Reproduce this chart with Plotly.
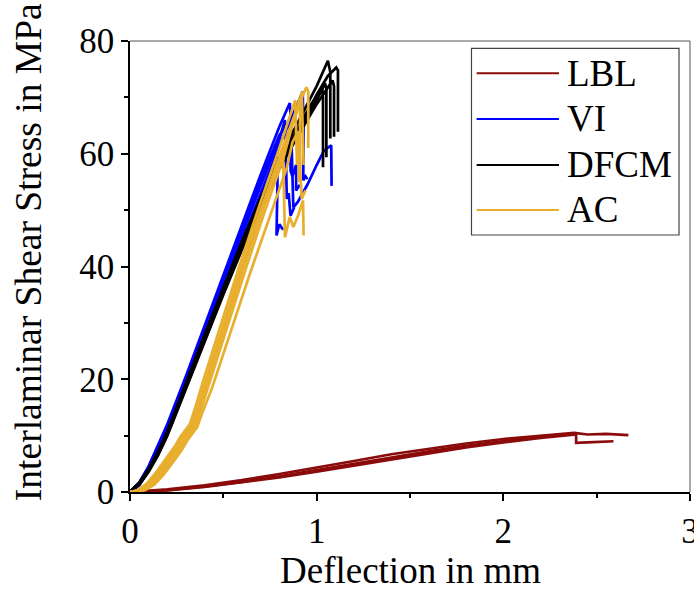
import plotly.graph_objects as go

# ---------------- data ----------------
series_names = ["LBL", "VI", "DFCM", "AC"]
series_colors = ["#8B0A0A", "#0000FF", "#000000", "#E8AE2E"]

lbl_x = [
    [0, 0.2, 0.4, 0.6, 0.8, 1.0, 1.2, 1.4, 1.6, 1.8, 2.0, 2.2, 2.39, 2.39, 2.45, 2.59],
    [0, 0.2, 0.4, 0.6, 0.8, 1.0, 1.2, 1.4, 1.6, 1.8, 2.0, 2.2, 2.38, 2.45, 2.55, 2.67],
    [0, 0.2, 0.4, 0.6, 0.8, 1.0, 1.2, 1.4, 1.6, 1.8, 2.0, 2.2, 2.39],
]
lbl_y = [
    [0, 0.35, 1.0, 1.8, 2.8, 3.9, 5.1, 6.2, 7.2, 8.2, 9.0, 9.8, 10.4, 8.7, 8.8, 9.0],
    [0, 0.45, 1.2, 2.1, 3.2, 4.3, 5.5, 6.7, 7.7, 8.6, 9.4, 10.0, 10.5, 10.2, 10.3, 10.1],
    [0, 0.3, 0.9, 1.7, 2.6, 3.6, 4.7, 5.8, 6.9, 7.9, 8.8, 9.6, 10.2],
]

vi_x = [
    [0, 0.05, 0.1, 0.2, 0.3, 0.4, 0.5, 0.6, 0.7, 0.8, 0.856, 0.862, 0.87, 0.875, 0.9, 0.95, 1.0, 1.04, 1.078, 1.08],
    [0, 0.05, 0.1, 0.2, 0.3, 0.4, 0.5, 0.6, 0.7, 0.76, 0.785, 0.79, 0.785, 0.8, 0.82],
    [0, 0.05, 0.1, 0.2, 0.3, 0.4, 0.5, 0.6, 0.7, 0.8, 0.88, 0.925, 0.93, 0.928, 0.94, 0.95],
    [0, 0.05, 0.1, 0.2, 0.3, 0.4, 0.5, 0.6, 0.7, 0.8, 0.85, 0.86, 0.86, 0.87, 0.89, 0.89, 0.91],
    [0, 0.05, 0.1, 0.2, 0.3, 0.4, 0.5, 0.6, 0.7, 0.8, 0.83, 0.835, 0.84, 0.85, 0.86, 0.88],
]
vi_y = [
    [0, 1.7, 4.6, 12.0, 20.6, 29.6, 38.5, 47.4, 56.3, 64.8, 69.0, 66.0, 58.0, 50.5, 51.5, 54.5, 58.0, 60.6, 61.5, 54.3],
    [0, 1.5, 4.3, 11.6, 20.0, 28.8, 37.6, 46.5, 55.2, 59.8, 61.5, 55.0, 45.5, 47.5, 46.5],
    [0, 1.2, 3.8, 10.6, 18.8, 27.4, 36.0, 44.6, 53.2, 61.5, 67.5, 71.0, 64.0, 55.3, 56.0, 55.5],
    [0, 1.6, 4.4, 11.8, 20.2, 29.0, 37.8, 46.6, 55.4, 63.3, 65.5, 62.0, 57.0, 56.0, 58.0, 53.5, 54.5],
    [0, 1.4, 4.1, 11.2, 19.5, 28.2, 36.9, 45.6, 54.3, 62.5, 66.0, 60.0, 52.0, 53.0, 49.0, 50.5],
]

dfcm_x = [
    [0, 0.05, 0.1, 0.15, 0.2, 0.3, 0.4, 0.5, 0.6, 0.7, 0.8, 0.9, 1.0, 1.06, 1.073, 1.073],
    [0, 0.05, 0.1, 0.15, 0.2, 0.3, 0.4, 0.5, 0.6, 0.7, 0.8, 0.9, 1.0, 1.06, 1.105, 1.114, 1.114],
    [0, 0.05, 0.1, 0.15, 0.2, 0.3, 0.4, 0.5, 0.6, 0.7, 0.8, 0.9, 0.97, 1.03, 1.034, 1.034],
    [0, 0.05, 0.1, 0.15, 0.2, 0.3, 0.4, 0.5, 0.6, 0.7, 0.8, 0.9, 1.0, 1.045, 1.052, 1.052],
    [0, 0.05, 0.1, 0.15, 0.2, 0.3, 0.4, 0.5, 0.6, 0.7, 0.8, 0.9, 1.0, 1.085, 1.093, 1.093],
]
dfcm_y = [
    [0, 1.6, 4.0, 7.0, 10.6, 19.2, 27.8, 36.2, 44.5, 52.2, 59.2, 65.5, 72.0, 76.5, 74.5, 62.7],
    [0, 1.4, 3.7, 6.6, 10.1, 18.6, 27.0, 35.3, 43.3, 51.0, 58.0, 64.0, 70.5, 73.8, 75.3, 74.8, 63.9],
    [0, 1.7, 4.1, 7.2, 10.8, 19.4, 28.0, 36.2, 44.2, 51.6, 58.4, 64.5, 68.8, 71.5, 70.0, 57.6],
    [0, 1.5, 3.8, 6.8, 10.3, 18.8, 27.3, 35.5, 43.5, 51.0, 58.0, 64.0, 69.5, 72.5, 71.5, 59.4],
    [0, 1.3, 3.6, 6.5, 10.0, 18.4, 26.8, 35.0, 43.0, 50.5, 57.3, 63.2, 68.8, 73.0, 72.0, 63.0],
]

ac_x = [
    [0, 0.05, 0.1, 0.15, 0.2, 0.25, 0.28, 0.31, 0.33, 0.36, 0.4, 0.5, 0.6, 0.7, 0.8, 0.9, 0.945, 0.955, 0.955],
    [0, 0.06, 0.11, 0.16, 0.21, 0.26, 0.29, 0.32, 0.34, 0.37, 0.41, 0.51, 0.61, 0.71, 0.81, 0.9, 0.92, 0.925, 0.93],
    [0, 0.08, 0.13, 0.18, 0.23, 0.28, 0.31, 0.34, 0.36, 0.39, 0.44, 0.54, 0.64, 0.74, 0.84, 0.87, 0.9, 0.905, 0.91],
    [0, 0.05, 0.1, 0.15, 0.2, 0.25, 0.28, 0.31, 0.33, 0.36, 0.4, 0.5, 0.6, 0.7, 0.8, 0.82, 0.825, 0.83, 0.856, 0.875, 0.9, 0.927, 0.93],
    [0, 0.04, 0.09, 0.14, 0.19, 0.24, 0.27, 0.3, 0.32, 0.35, 0.39, 0.49, 0.59, 0.69, 0.79, 0.885, 0.89, 0.895],
    [0, 0.07, 0.12, 0.17, 0.22, 0.27, 0.3, 0.33, 0.35, 0.38, 0.42, 0.52, 0.62, 0.72, 0.82, 0.91, 0.912, 0.92, 0.94],
]
ac_y = [
    [0, 0.3, 1.4, 3.3, 5.6, 7.9, 9.6, 10.8, 11.8, 14.8, 19.0, 29.5, 40.0, 50.0, 59.5, 68.5, 71.8, 71.0, 61.0],
    [0, 0.3, 1.4, 3.3, 5.6, 7.9, 9.6, 10.8, 11.8, 14.8, 19.0, 29.5, 40.0, 50.0, 59.5, 68.0, 71.0, 62.0, 58.0],
    [0, 0.3, 1.3, 3.1, 5.3, 7.6, 9.3, 10.5, 11.5, 14.3, 18.5, 28.5, 38.5, 48.0, 57.5, 62.0, 64.0, 55.0, 56.0],
    [0, 0.3, 1.4, 3.3, 5.6, 7.9, 9.6, 10.8, 11.8, 14.8, 19.0, 29.5, 40.0, 50.0, 58.0, 60.0, 52.0, 45.2, 48.8, 47.0, 49.0, 51.7, 45.5],
    [0, 0.3, 1.5, 3.5, 5.8, 8.1, 9.8, 11.0, 12.0, 15.0, 19.5, 30.0, 40.5, 50.5, 60.0, 69.5, 60.0, 58.0],
    [0, 0.3, 1.3, 3.2, 5.4, 7.7, 9.4, 10.6, 11.6, 14.6, 18.8, 29.2, 39.6, 49.6, 59.0, 70.0, 57.0, 52.0, 53.5],
]

x_tick_vals = [0, 1, 2, 3]
y_tick_vals = [0, 20, 40, 60, 80]
x_title = "Deflection in mm"
y_title = "Interlaminar Shear Stress in MPa"

# ---------------- figure ----------------
FONT = "Liberation Serif, Times New Roman, serif"
fig = go.Figure()

groups = [(lbl_x, lbl_y), (vi_x, vi_y), (dfcm_x, dfcm_y), (ac_x, ac_y)]
for gi in range(len(groups)):
    xs, ys = groups[gi]
    for cx, cy in zip(xs, ys):
        fig.add_trace(go.Scatter(
            x=cx, y=cy, mode="lines",
            line=dict(color=series_colors[gi], width=2.7),
            name=series_names[gi], showlegend=False, hoverinfo="skip",
            cliponaxis=False,
        ))

axis_common = dict(
    showline=True, linecolor="black", linewidth=1.5,
    ticks="outside", ticklen=7, tickwidth=1.5, tickcolor="black",
    showgrid=False, zeroline=False, automargin=False,
    ticklabeloverflow="allow",
    tickfont=dict(family=FONT, size=35, color="black"),
)
fig.update_xaxes(range=[0, 3], tickvals=x_tick_vals,
                 minor=dict(dtick=0.5, ticks="outside", ticklen=4, tickwidth=1.5, tickcolor="black"),
                 **axis_common)
fig.update_yaxes(range=[0, 80], tickvals=y_tick_vals,
                 minor=dict(dtick=10, ticks="outside", ticklen=4, tickwidth=1.5, tickcolor="black"),
                 **axis_common)

shapes = [
    dict(type="line", xref="paper", yref="paper", x0=0, x1=1, y0=1, y1=1,
         line=dict(color="#555555", width=1)),
    dict(type="line", xref="paper", yref="paper", x0=1, x1=1, y0=0, y1=1,
         line=dict(color="#555555", width=1)),
    # legend frame
    dict(type="rect", xref="paper", yref="paper", x0=0.6098, x1=0.9804, y0=0.5698, y1=0.9838,
         line=dict(color="#444444", width=1.2), fillcolor="white", layer="above"),
]
annotations = []
legend_y = [0.9284, 0.8271, 0.7251, 0.6253]
for i, nm in enumerate(series_names):
    shapes.append(dict(type="line", xref="paper", yref="paper", x0=0.619, x1=0.766,
                       y0=legend_y[i], y1=legend_y[i],
                       line=dict(color=series_colors[i], width=2), layer="above"))
    annotations.append(dict(text=nm, xref="paper", yref="paper", x=0.776, y=legend_y[i],
                            xanchor="left", yanchor="middle", showarrow=False,
                            font=dict(family=FONT, size=37, color="black")))

annotations.append(dict(text=x_title, xref="paper", yref="paper", x=0.5, y=-0.2235,
                        xanchor="center", yanchor="bottom", showarrow=False,
                        font=dict(family=FONT, size=37, color="black")))
annotations.append(dict(text=y_title, xref="paper", yref="paper", x=-0.182, y=0.532,
                        xanchor="center", yanchor="middle", showarrow=False, textangle=-90,
                        font=dict(family=FONT, size=37.5, color="black")))

fig.update_layout(
    width=694, height=591,
    margin=dict(l=130, r=4, t=41, b=99),
    plot_bgcolor="white", paper_bgcolor="white",
    shapes=shapes, annotations=annotations,
    showlegend=False,
)

fig.write_html("out.html", config={"displayModeBar": False},
               post_script="document.body.style.margin='0px';document.body.style.overflow='hidden';")
